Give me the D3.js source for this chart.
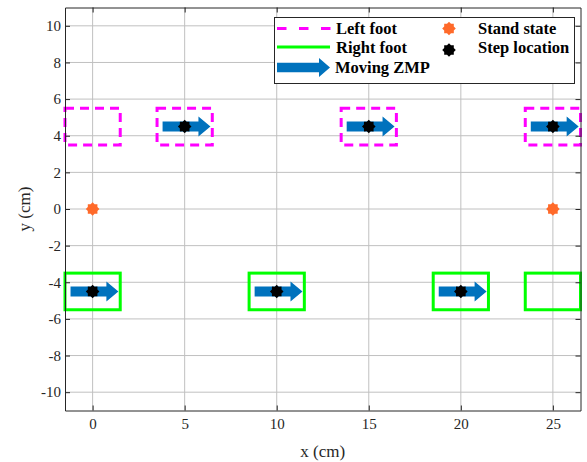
<!DOCTYPE html>
<html>
<head>
<meta charset="utf-8">
<script src="https://cdn.jsdelivr.net/npm/d3@7"></script>
<style>
  html, body { margin: 0; padding: 0; background: #fff; }
  svg { display: block; }
</style>
</head>
<body>
<svg id="chart" width="587" height="462"></svg>
<script>
// Axis ticks
const xTicks = [0, 5, 10, 15, 20, 25];
const yTicks = [-10, -8, -6, -4, -2, 0, 2, 4, 6, 8, 10];

// Foot placements (centres, cm)
const leftFootX = [0, 5, 15, 25];
const leftFootY = [4.5, 4.5, 4.5, 4.5];
const rightFootX = [0, 10, 20, 25];
const rightFootY = [-4.5, -4.5, -4.5, -4.5];
const footLength = 3;
const footWidth = 2;

// Step locations and stand state (cm)
const stepX = [0, 5, 10, 15, 20, 25];
const stepY = [-4.5, 4.5, -4.5, 4.5, -4.5, 4.5];
const standX = [0, 25];
const standY = [0, 0];

// Moving ZMP arrows (start / end x, y in cm)
const zmpStartX = [-1.2, 3.8, 8.8, 13.8, 18.8, 23.8];
const zmpEndX = [1.4, 6.4, 11.4, 16.4, 21.4, 26.4];
const zmpY = [-4.5, 4.5, -4.5, 4.5, -4.5, 4.5];

const legendItems = ["Left foot", "Right foot", "Moving ZMP", "Stand state", "Step location"];

const svg = d3.select("#chart");
const margin = { left: 65, top: 7.5, right: 587 - 580.5, bottom: 462 - 410.5 };
const W = 587 - margin.left - margin.right;
const H = 462 - margin.top - margin.bottom;

const x = d3.scaleLinear().domain([-1.5, 26.5]).range([margin.left, margin.left + W]);
const y = d3.scaleLinear().domain([-11, 11]).range([margin.top + H, margin.top]);

const axisColor = "#262626";
const gridColor = "#c0c0c0";
const serif = "'Liberation Serif', 'Times New Roman', serif";

// Grid
const grid = svg.append("g");
grid.selectAll("line.gx").data(xTicks).join("line")
  .attr("x1", d => x(d)).attr("x2", d => x(d))
  .attr("y1", y(-11)).attr("y2", y(11))
  .attr("stroke", gridColor).attr("stroke-width", 1);
grid.selectAll("line.gy").data(yTicks).join("line")
  .attr("y1", d => y(d)).attr("y2", d => y(d))
  .attr("x1", x(-1.5)).attr("x2", x(26.5))
  .attr("stroke", gridColor).attr("stroke-width", 1);

// Feet
const feet = svg.append("g");
feet.selectAll("rect.left").data(leftFootX.map((d, i) => [d, leftFootY[i]])).join("rect")
  .attr("x", d => x(d[0] - footLength / 2))
  .attr("y", d => y(d[1] + footWidth / 2))
  .attr("width", d => x(d[0] + footLength / 2) - x(d[0] - footLength / 2))
  .attr("height", d => y(d[1] - footWidth / 2) - y(d[1] + footWidth / 2))
  .attr("fill", "none").attr("stroke", "#ff00ff").attr("stroke-width", 3)
  .attr("stroke-dasharray", "9,6");
feet.selectAll("rect.right").data(rightFootX.map((d, i) => [d, rightFootY[i]])).join("rect")
  .attr("x", d => x(d[0] - footLength / 2))
  .attr("y", d => y(d[1] + footWidth / 2))
  .attr("width", d => x(d[0] + footLength / 2) - x(d[0] - footLength / 2))
  .attr("height", d => y(d[1] - footWidth / 2) - y(d[1] + footWidth / 2))
  .attr("fill", "none").attr("stroke", "#00ff00").attr("stroke-width", 3);

// Block arrow path from (x0,yc) to (x1,yc)
function arrowPath(x0, x1, yc, shaft, head, headLen) {
  const hb = x1 - headLen;
  return `M${x0},${yc - shaft / 2}L${hb},${yc - shaft / 2}L${hb},${yc - head / 2}L${x1},${yc}` +
    `L${hb},${yc + head / 2}L${hb},${yc + shaft / 2}L${x0},${yc + shaft / 2}Z`;
}
const blue = "#0072bd";
svg.append("g").selectAll("path").data(zmpStartX.map((d, i) => [d, zmpEndX[i], zmpY[i]])).join("path")
  .attr("d", d => arrowPath(x(d[0]), x(d[1]), y(d[2]), 10, 20, 12))
  .attr("fill", blue);

// Star-like filled marker
function markerPath(cx, cy, ro, ri, n) {
  const pts = [];
  for (let k = 0; k < 2 * n; k++) {
    const r = k % 2 === 0 ? ro : ri;
    const a = Math.PI * k / n - Math.PI / 2;
    pts.push([cx + r * Math.cos(a), cy + r * Math.sin(a)]);
  }
  return "M" + pts.map(p => p.join(",")).join("L") + "Z";
}
const orange = "#ff6a2a";
svg.append("g").selectAll("path").data(standX.map((d, i) => [d, standY[i]])).join("path")
  .attr("d", d => markerPath(x(d[0]), y(d[1]), 6.8, 5.2, 8))
  .attr("fill", orange);
svg.append("g").selectAll("path").data(stepX.map((d, i) => [d, stepY[i]])).join("path")
  .attr("d", d => markerPath(x(d[0]), y(d[1]), 6.8, 5.2, 8))
  .attr("fill", "#000");

// Axes (box with inward ticks on all sides)
const tickLen = 5;
const axB = svg.append("g").attr("transform", `translate(0,${y(-11)})`)
  .call(d3.axisBottom(x).tickValues(xTicks).tickSizeInner(-tickLen).tickSizeOuter(0).tickPadding(8));
const axT = svg.append("g").attr("transform", `translate(0,${y(11)})`)
  .call(d3.axisTop(x).tickValues(xTicks).tickSizeInner(-tickLen).tickSizeOuter(0).tickFormat(""));
const axL = svg.append("g").attr("transform", `translate(${x(-1.5)},0)`)
  .call(d3.axisLeft(y).tickValues(yTicks).tickSizeInner(-tickLen).tickSizeOuter(0).tickPadding(4)
    .tickFormat(d => d < 0 ? "-" + Math.abs(d) : String(d)));
const axR = svg.append("g").attr("transform", `translate(${x(26.5)},0)`)
  .call(d3.axisRight(y).tickValues(yTicks).tickSizeInner(-tickLen).tickSizeOuter(0).tickFormat(""));
[axB, axT, axL, axR].forEach(a => {
  a.select(".domain").attr("stroke", axisColor).attr("stroke-width", 1);
  a.selectAll(".tick line").attr("stroke", axisColor);
  a.selectAll("text").attr("fill", axisColor).attr("font-family", serif).attr("font-size", 15);
});

// Axis titles
svg.append("text").attr("x", x(12.5)).attr("y", 457).attr("text-anchor", "middle")
  .attr("font-family", serif).attr("font-size", 17).attr("fill", axisColor).text("x (cm)");
svg.append("text").attr("transform", `translate(30,${y(0)}) rotate(-90)`).attr("text-anchor", "middle")
  .attr("font-family", serif).attr("font-size", 17).attr("fill", axisColor).text("y (cm)");

// Legend
const lg = svg.append("g");
lg.append("rect").attr("x", 274.5).attr("y", 17.5).attr("width", 300).attr("height", 66)
  .attr("fill", "#fff").attr("stroke", axisColor).attr("stroke-width", 1);
const rowY = [28.5, 47, 67.5];
lg.append("line").attr("x1", 277).attr("x2", 331).attr("y1", rowY[0]).attr("y2", rowY[0])
  .attr("stroke", "#ff00ff").attr("stroke-width", 3).attr("stroke-dasharray", "9.5,12.5");
lg.append("line").attr("x1", 277).attr("x2", 330).attr("y1", rowY[1]).attr("y2", rowY[1])
  .attr("stroke", "#00ff00").attr("stroke-width", 3);
lg.append("path").attr("d", arrowPath(277, 330, rowY[2], 9.5, 19, 11)).attr("fill", blue);
lg.append("path").attr("d", markerPath(449, rowY[0], 6.8, 5.2, 8)).attr("fill", orange);
lg.append("path").attr("d", markerPath(449, 50, 6.8, 5.2, 8)).attr("fill", "#000");
const textPos = [[336, 34], [336, 52.5], [335, 73], [478, 34], [478, 52.5]];
lg.selectAll("text").data(legendItems).join("text")
  .attr("x", (d, i) => textPos[i][0]).attr("y", (d, i) => textPos[i][1])
  .attr("font-family", serif).attr("font-weight", "bold").attr("font-size", 16.5).attr("fill", "#000")
  .text(d => d);
</script>
</body>
</html>
